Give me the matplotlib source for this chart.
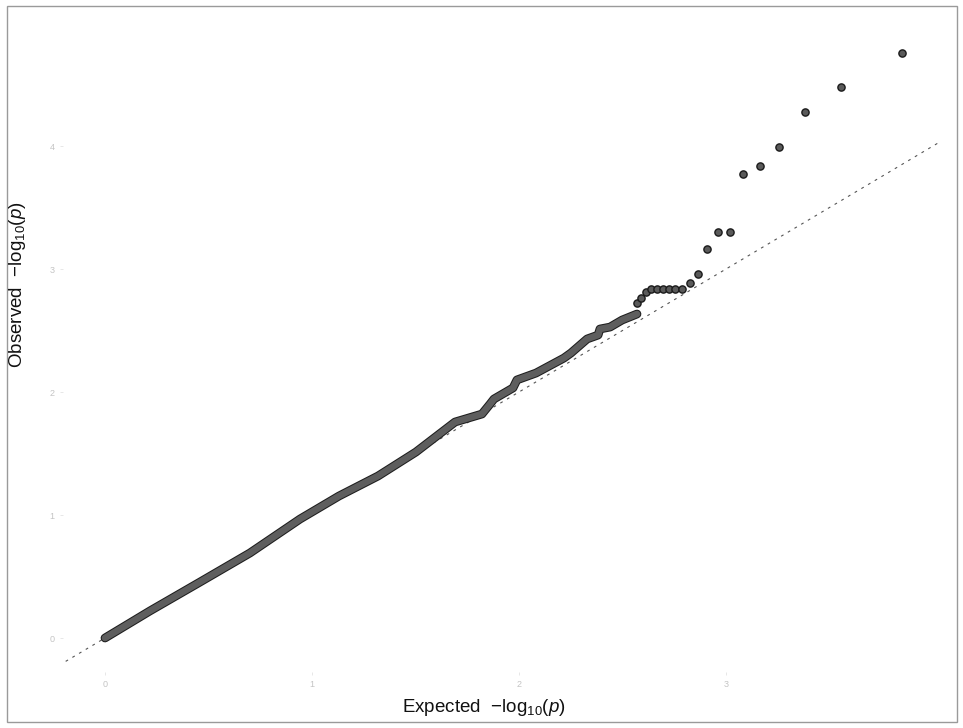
import matplotlib
matplotlib.use("Agg")
import matplotlib.pyplot as plt
import matplotlib.patheffects as pe
from matplotlib.patches import Rectangle

plt.rcParams['font.family'] = ['Liberation Sans', 'DejaVu Sans']
plt.rcParams['mathtext.fontset'] = 'custom'
plt.rcParams['mathtext.rm'] = 'Liberation Sans'
plt.rcParams['mathtext.it'] = 'Liberation Sans:italic'

# dense part of the QQ curve (expected, observed)
bulk_expected = [0.0, 0.217, 0.459, 0.700, 0.942, 1.130, 1.319, 1.502, 1.691, 1.821,
                 1.860, 1.879, 1.971, 1.990, 2.082, 2.217, 2.251, 2.329, 2.382, 2.391,
                 2.440, 2.498, 2.570]
bulk_observed = [0.0, 0.220, 0.455, 0.691, 0.967, 1.154, 1.317, 1.512, 1.756, 1.821,
                 1.902, 1.943, 2.033, 2.098, 2.154, 2.276, 2.317, 2.431, 2.463, 2.512,
                 2.528, 2.585, 2.634]

# sparse tail points
tail_expected = [2.569, 2.588, 2.612, 2.638, 2.665, 2.694, 2.725, 2.755, 2.786, 2.826,
                 2.866, 2.910, 2.960, 3.019, 3.082, 3.163, 3.256, 3.382, 3.554, 3.850]
tail_observed = [2.726, 2.762, 2.811, 2.835, 2.835, 2.835, 2.835, 2.835, 2.835, 2.884,
                 2.957, 3.165, 3.298, 3.298, 3.770, 3.837, 3.989, 4.274, 4.477, 4.759]

ref_range = [-0.19, 4.03]
x_ticks = [0, 1, 2, 3]
y_ticks = [0, 1, 2, 3, 4]

fig = plt.figure(figsize=(9.63, 7.28), dpi=100)
fig.patch.set_facecolor('white')
ax = fig.add_axes([63 / 963, 56 / 728, 887 / 963, 642 / 728])

# y = x reference
ax.plot(ref_range, ref_range, color='#555555', lw=0.8, linestyle=(0, (2.5, 4.5)), zorder=1)

ax.plot(bulk_expected, bulk_observed, color='#5e5e5e', lw=4.8,
        solid_capstyle='round', solid_joinstyle='round', zorder=2,
        path_effects=[pe.Stroke(linewidth=6.3, foreground='#1e1e1e'), pe.Normal()])

ax.scatter(tail_expected, tail_observed, s=27, facecolor='#5a5a5a',
           edgecolor='#1a1a1a', linewidth=1.0, zorder=3)

ax.set_xlim(-0.2029, 4.0821)
ax.set_ylim(-0.2764, 4.9431)
for s in ax.spines.values():
    s.set_visible(False)

ax.set_xticks(x_ticks)
ax.set_yticks(y_ticks)
ax.tick_params(axis='both', length=2, width=0.5, color='#dddddd',
               labelsize=6.5, labelcolor='#c4c4c4')
ax.tick_params(axis='x', pad=4)
ax.tick_params(axis='y', pad=4)

fig.text(484 / 963, 1 - 707 / 728, r'Expected  $-\mathrm{log}_{10}(p)$',
         ha='center', va='center', fontsize=13.5, color='#111111')
fig.text(18 / 963, 1 - 285 / 728, r'Observed  $-\mathrm{log}_{10}(p)$',
         ha='center', va='center', rotation=90, fontsize=13.5, color='#111111')

# scanned page border
fig.patches.append(Rectangle((7 / 963, 6 / 728), 950 / 963, 716 / 728,
                             transform=fig.transFigure, fill=False,
                             edgecolor='#9a9a9a', lw=1))

fig.savefig('out.png', dpi=100)
